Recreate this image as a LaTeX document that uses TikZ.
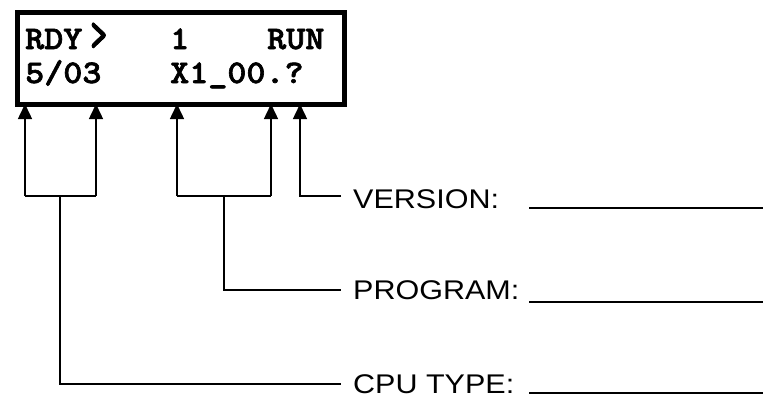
\documentclass[tikz,border=0pt]{standalone}
\usepackage{fontspec}
\setmainfont{Liberation Sans}
\newfontfamily\lcdfont[FakeStretch=1.1,FakeBold=2]{lmmonolt10-bold.otf}
\newfontfamily\labfont[FakeStretch=1.13]{Liberation Sans}
\usetikzlibrary{arrows.meta}
\begin{document}
\begin{tikzpicture}[x=1pt,y=-1pt,
  lcdtext/.style={inner sep=0pt,anchor=base west,font=\lcdfont\fontsize{33}{34}\selectfont},
  lab/.style={inner xsep=12pt,inner ysep=0pt,anchor=west,font=\labfont\fontsize{27}{28}\selectfont},
  conn/.style={line width=1.5pt},
  arr/.style={conn,-{Triangle[width=14pt,length=15pt]}},
  blank/.style={line width=2pt}]
\useasboundingbox (0,0) rectangle (765,397);
\node[draw,line width=5pt,minimum width=327pt,minimum height=92pt,inner sep=0pt,anchor=north west] (lcd) at (14.5,9.5) {};
\node[lcdtext] (rdy) at (25,49) {RDY};
\node[lcdtext] (gt) at (90,50.5) {\scalebox{0.9}[1.5]{>}};
\node[lcdtext] (one) at (170,49) {1};
\node[lcdtext] (run) at (267,49) {RUN};
\node[lcdtext] (ty) at (25,83) {5/03};
\node[lcdtext] (prg) at (170,83) {X1\_00.?};
% labels
\node[lab] (ver) at (341,199.5) {VERSION:};
\node[lab] (pro) at (341,290) {PROGRAM:};
\node[lab] (cpu) at (341,384) {CPU TYPE:};
% tips
\coordinate (t1) at (25,104);
\coordinate (t2) at (96,104);
\coordinate (t3) at (177,104);
\coordinate (t4) at (271,104);
\coordinate (t5) at (300,104);
% brackets
\coordinate (b1) at (25,196);
\coordinate (b2) at (96,196);
\coordinate (b3) at (177,196);
\coordinate (b4) at (271,196);
\coordinate (b5) at (300,196);
\coordinate (m1) at (60,196);
\coordinate (m2) at (224,196);
\draw[conn] (b1) -- (b2);
\draw[conn] (b3) -- (b4);
\draw[arr] (b1) -- (t1);
\draw[arr] (b2) -- (t2);
\draw[arr] (b3) -- (t3);
\draw[arr] (b4) -- (t4);
\draw[arr] (ver.west |- b5) -- (b5) -- (t5);
\draw[conn] (m2) |- (pro.west);
\draw[conn] (m1) |- (cpu.west);
% blanks
\draw[blank] (529,208) -- (763,208);
\draw[blank] (529,302) -- (763,302);
\draw[blank] (529,393) -- (763,393);
\end{tikzpicture}
\end{document}
